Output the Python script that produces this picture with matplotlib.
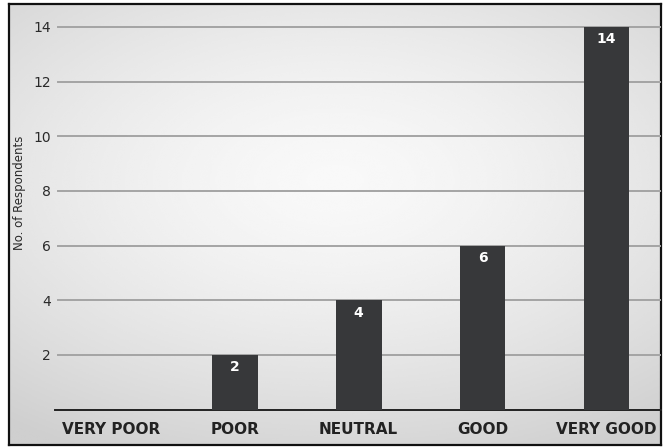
import numpy as np
import matplotlib.pyplot as plt

categories = ['VERY POOR', 'POOR', 'NEUTRAL', 'GOOD', 'VERY GOOD']
respondents = [0, 2, 4, 6, 14]
yticks = [2, 4, 6, 8, 10, 12, 14]

W, H = 668, 447
fig = plt.figure(figsize=(W / 100, H / 100), dpi=100)
fig.patch.set_facecolor('white')

# framed panel with a soft radial gradient
fl, fb, fr, ft = 9 / W, 1 - 445 / H, 661 / W, 1 - 4 / H
bg = fig.add_axes([fl, fb, fr - fl, ft - fb], zorder=0)
gx, gy = np.meshgrid(np.linspace(-1, 1, 400), np.linspace(-1, 1, 300))
r = np.sqrt((gx * 0.85) ** 2 + (gy + 0.2) ** 2)
shade = 0.975 - 0.1 * np.clip(r, 0, 1.4) ** 1.5
bg.imshow(shade, cmap='gray', vmin=0, vmax=1, aspect='auto',
          extent=[0, 1, 0, 1], interpolation='bicubic')
bg.set_xlim(0, 1)
bg.set_ylim(0, 1)
bg.set_xticks([])
bg.set_yticks([])
for s in bg.spines.values():
    s.set_color('#111111')
    s.set_linewidth(1.6)

# main chart axes
x0, x1 = 55 / W, 661 / W
y0, y1 = 1 - 409.5 / H, 1 - 27 / H
ax = fig.add_axes([x0, y0, x1 - x0, (y1 - y0) * 15 / 14], zorder=1)
ax.patch.set_alpha(0)

x = np.arange(len(categories))
ax.bar(x, respondents, width=0.37, color='#37383a', zorder=3)
for xi, v in zip(x, respondents):
    if v > 0:
        ax.text(xi, v - 0.45, str(v), ha='center', va='center',
                color='white', fontsize=10, fontweight='bold', zorder=4)

ax.set_xlim(-0.45, len(categories) - 1 + 0.44)
ax.set_ylim(0, 15)
ax.set_yticks(yticks)
ax.set_yticklabels([str(t) for t in yticks], fontsize=10, color='#2a2a2a')
ax.tick_params(axis='y', length=0, pad=3)
for t in yticks:
    ax.axhline(t, xmin=0.005, color='#a4a4a4', lw=1.4, zorder=1)

ax.set_xticks(x)
ax.set_xticklabels(categories, fontsize=11, fontweight='bold', color='#222222')
ax.tick_params(axis='x', length=0, pad=9)

for side in ['top', 'right', 'left']:
    ax.spines[side].set_visible(False)
ax.spines['bottom'].set_color('#222222')
ax.spines['bottom'].set_linewidth(1.4)

fig.text(20 / W, 1 - 193 / H, 'No. of Respondents', rotation=90,
         ha='center', va='center', fontsize=8.5, color='#2a2a2a')

fig.savefig('out.png', dpi=100)
